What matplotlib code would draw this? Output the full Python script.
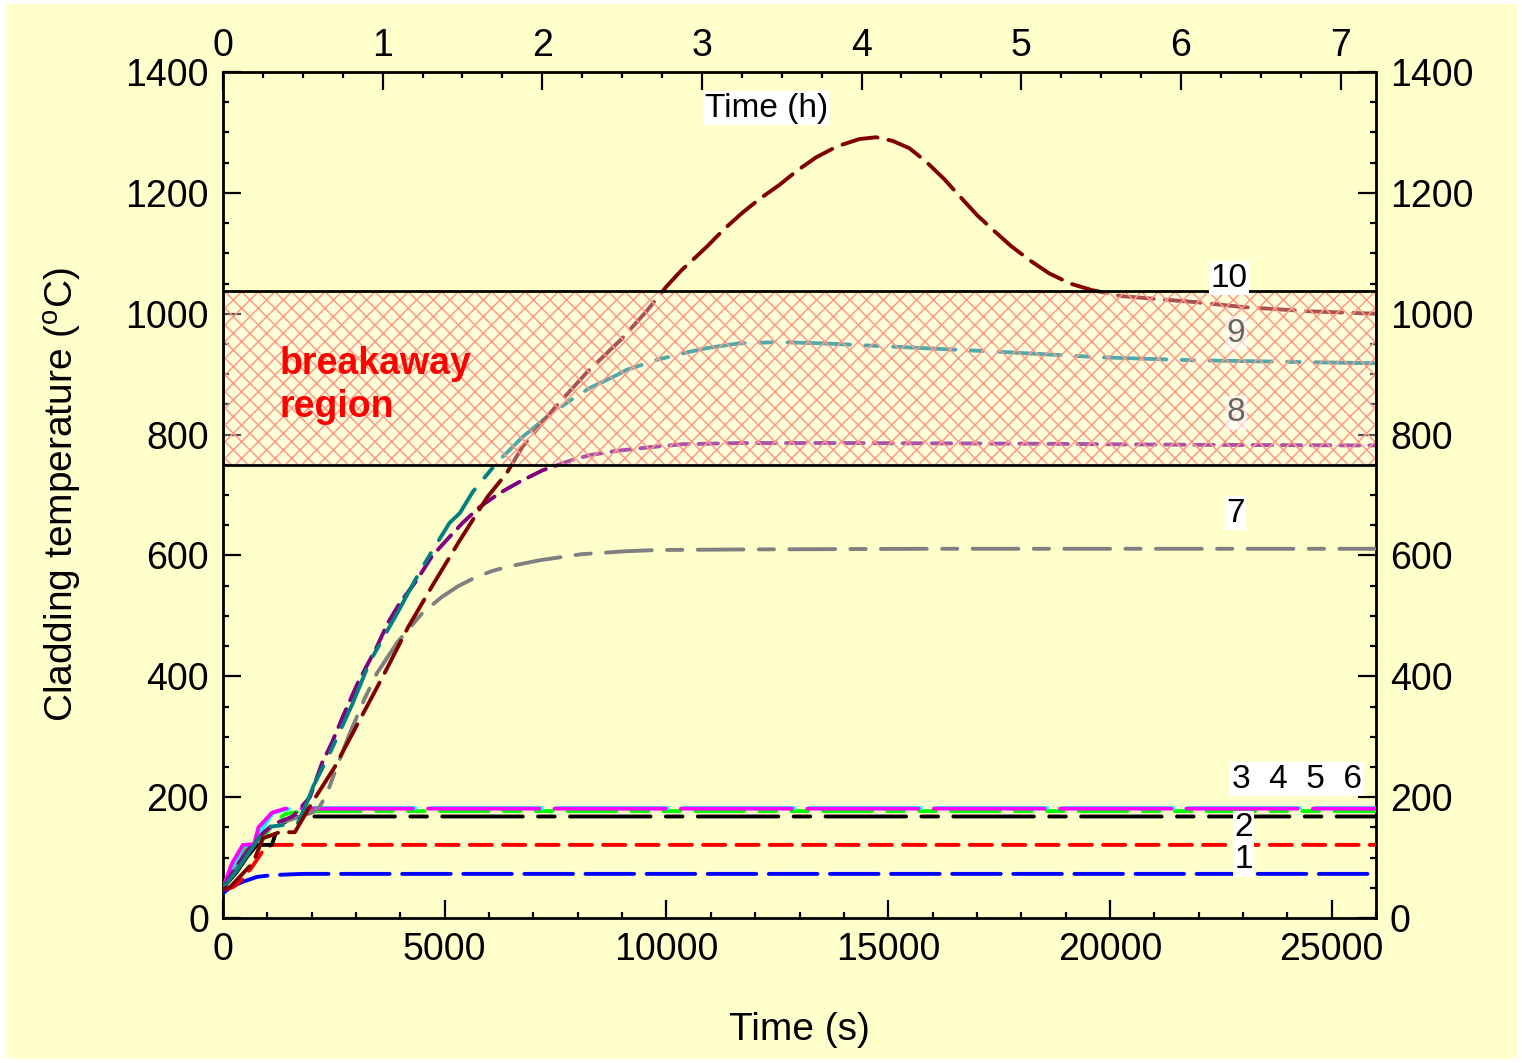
import numpy as np
import matplotlib
matplotlib.use('Agg')
import matplotlib.pyplot as plt
from matplotlib.patches import Rectangle
from matplotlib.ticker import MultipleLocator

plt.rcParams['font.family'] = ['Liberation Sans', 'DejaVu Sans']
plt.rcParams['mathtext.fontset'] = 'custom'
plt.rcParams['mathtext.rm'] = 'Liberation Sans'
plt.rcParams['lines.scale_dashes'] = False
plt.rcParams['hatch.linewidth'] = 1.1

BG = '#FFFFCC'

# time (s) and cladding temperature (C)
t1 = [0, 100, 225, 450, 765, 1100, 1800, 26000]
T1 = [41, 47, 53, 60, 68, 71, 73, 73]
t2 = [0, 225, 450, 650, 945, 1100, 26000]
T2 = [47, 51, 65, 84, 116, 121, 121]
t3 = [0, 300, 540, 765, 1100, 1240, 1465, 1665, 1900, 26000]
T3 = [50, 75, 101, 121, 121, 151, 162, 167, 168, 168]
t4 = [0, 250, 450, 700, 900, 1100, 1400, 1800, 26000]
T4 = [50, 85, 115, 121, 130, 155, 172, 177, 177]
t5 = [0, 250, 450, 700, 900, 1125, 1440, 1800, 26000]
T5 = [50, 88, 119, 121, 149, 174, 180, 182, 182]
t6 = [0, 200, 450, 700, 800, 1100, 1400, 26000]
T6 = [50, 90, 121, 122, 150, 174, 181, 181]
t7 = [0, 225, 500, 900, 1200, 1700, 2030, 2185, 2340, 2520, 2860, 3200, 3470,
      3940, 4500, 4930, 5300, 5675, 6060, 6460, 7140, 8080, 9100, 9800, 12000,
      16000, 20000, 26000]
T7 = [50, 74, 110, 140, 155, 167, 175, 185, 205, 241, 306, 364, 405,
      457, 505, 531, 549, 563, 574, 582, 592, 602, 607, 609, 610,
      611, 611, 611]
t8 = [0, 300, 600, 900, 1125, 1575, 1960, 2230, 2455, 2700, 3040, 3470, 3715,
      3985, 4370, 4705, 5000, 5405, 5785, 6235, 6690, 7210, 7750, 8265, 8875,
      9620, 10360, 11640, 14000, 18000, 22000, 26000]
T8 = [50, 85, 115, 140, 155, 168, 200, 256, 290, 333, 389, 449, 488,
      521, 559, 598, 622, 654, 680, 703, 722, 741, 755, 766, 773,
      779, 784, 786, 786, 785, 783, 782]
t9 = [0, 315, 600, 900, 1060, 1690, 1915, 2030, 2410, 2905, 3310, 3940, 4435,
      4730, 5110, 5340, 5630, 5855, 6170, 6510, 6755, 7300, 7800, 8265, 8785,
      9100, 9800, 10520, 10900, 11640, 12545, 13500, 15250, 17500, 19750,
      21850, 26000]
T9 = [50, 79, 110, 142, 151, 157, 195, 217, 273, 352, 424, 506, 573,
      609, 654, 670, 705, 725, 753, 778, 796, 829, 855, 877, 895,
      907, 924, 937, 943, 951, 953, 951, 945, 937, 928,
      923, 918]
t10 = [0, 160, 400, 675, 900, 1280, 1620, 1915, 2070, 2520, 3085, 3600, 4165,
       4730, 5340, 5965, 6395, 6755, 7475, 8220, 8985, 9550, 10000, 10340,
       10650, 10925, 11300, 11710, 12100, 12545, 12950, 13380, 13850, 14350,
       14730, 15100, 15475, 15850, 16260, 16630, 17005, 17390, 17770, 18200,
       18625, 19100, 19595, 20270, 21960, 23000, 24500, 26000]
T10 = [48, 51, 70, 91, 132, 142, 142, 179, 198, 250, 328, 399, 480,
       551, 625, 697, 736, 780, 844, 904, 958, 1004, 1045, 1072,
       1093, 1112, 1140, 1167, 1190, 1213, 1237, 1259, 1277, 1289,
       1292, 1286, 1274, 1252, 1223, 1193, 1163, 1137, 1112, 1088,
       1067, 1050, 1039, 1029, 1019, 1011, 1004, 1000]

breakaway_lo = 750
breakaway_hi = 1037

curves = [
    (t1, T1, '#0000FF', (35, 9)),
    (t2, T2, '#FF0000', (16, 8)),
    (t3, T3, '#000000', (58, 11, 12, 11)),
    (t4, T4, '#00FF00', (35, 11, 12, 11, 12, 11)),
    (t5, T5, '#00FFFF', (80, 11)),
    (t6, T6, '#FF00FF', (80, 11)),
    (t7, T7, '#808080', (33, 11, 11, 11)),
    (t8, T8, '#800080', (14, 7)),
    (t9, T9, '#008080', (45, 11, 9, 11)),
    (t10, T10, '#800000', (26, 8)),
]

fig = plt.figure(figsize=(15.22, 10.63), dpi=100, facecolor='white')
fig.patches.append(Rectangle((6 / 1522, 4 / 1063), 1512 / 1522, 1055 / 1063,
                             transform=fig.transFigure, facecolor=BG,
                             edgecolor='none', zorder=-10))
ax = fig.add_axes([223 / 1522, 145 / 1063, 1153 / 1522, 846 / 1063])
ax.set_facecolor(BG)

for t, T, col, dash in curves:
    ax.plot(t, T, color=col, lw=2.8, dashes=dash, zorder=3,
            solid_joinstyle='round', dash_capstyle='round')

# breakaway band, semi-opaque on top of the lines
ax.add_patch(Rectangle((0, breakaway_lo), 26000, breakaway_hi - breakaway_lo,
                       facecolor=(1, 1, 1, 0.33), edgecolor='#FF9A85',
                       hatch='xx', linewidth=0, zorder=5))
ax.add_patch(Rectangle((0, breakaway_lo), 26000, breakaway_hi - breakaway_lo,
                       facecolor='none', edgecolor='black', linewidth=2,
                       zorder=6))
ax.text(1280, 882, 'breakaway\nregion', color='#FF0000', fontsize=27,
        fontweight='bold', ha='left', va='center', linespacing=1.25, zorder=7)

box = dict(facecolor='white', edgecolor='none', pad=1)
lab = dict(fontsize=24, ha='center', va='center')
ax.text(22680, 1059, '10', zorder=7, bbox=box, **lab)
gbox = dict(facecolor='white', alpha=0.6, edgecolor='none', pad=1)
ax.text(22840, 968, '9', zorder=7, color='#666666', bbox=gbox, **lab)
ax.text(22840, 836, '8', zorder=7, color='#666666', bbox=gbox, **lab)
ax.text(22840, 670, '7', zorder=7, bbox=box, **lab)
ax.text(24210, 230, '3  4  5  6', zorder=7, bbox=box, **lab)
ax.text(23020, 150, '2', zorder=7, bbox=box, **lab)
ax.text(23020, 96, '1', zorder=7, bbox=box, **lab)
ax.text(12250, 1340, 'Time (h)', fontsize=24, ha='center', va='center',
        bbox=dict(facecolor='white', edgecolor='none', pad=1), zorder=7)

ax.set_xlim(0, 26000)
ax.set_ylim(0, 1400)
ax.xaxis.set_major_locator(MultipleLocator(5000))
ax.xaxis.set_minor_locator(MultipleLocator(1000))
ax.yaxis.set_major_locator(MultipleLocator(200))
ax.yaxis.set_minor_locator(MultipleLocator(50))
ax.tick_params(which='both', direction='in', labelsize=27, width=1.6,
               left=True, right=True, labelright=True, top=False, pad=10)
ax.tick_params(which='major', length=13)
ax.tick_params(which='minor', length=4)
for s in ax.spines.values():
    s.set_linewidth(2)

sec = ax.secondary_xaxis('top', functions=(lambda x: x / 3600.0,
                                           lambda h: h * 3600.0))
sec.xaxis.set_major_locator(MultipleLocator(1))
sec.xaxis.set_minor_locator(MultipleLocator(0.25))
sec.tick_params(which='both', direction='in', labelsize=27, width=1.6, pad=6)
sec.tick_params(which='major', length=13)
sec.tick_params(which='minor', length=4)

ax.set_xlabel('Time (s)', fontsize=28, labelpad=32)
ax.set_ylabel(r'Cladding temperature ($^{\rm o}$C)', fontsize=28, labelpad=30)

fig.savefig('out.png', dpi=100, facecolor='white')
